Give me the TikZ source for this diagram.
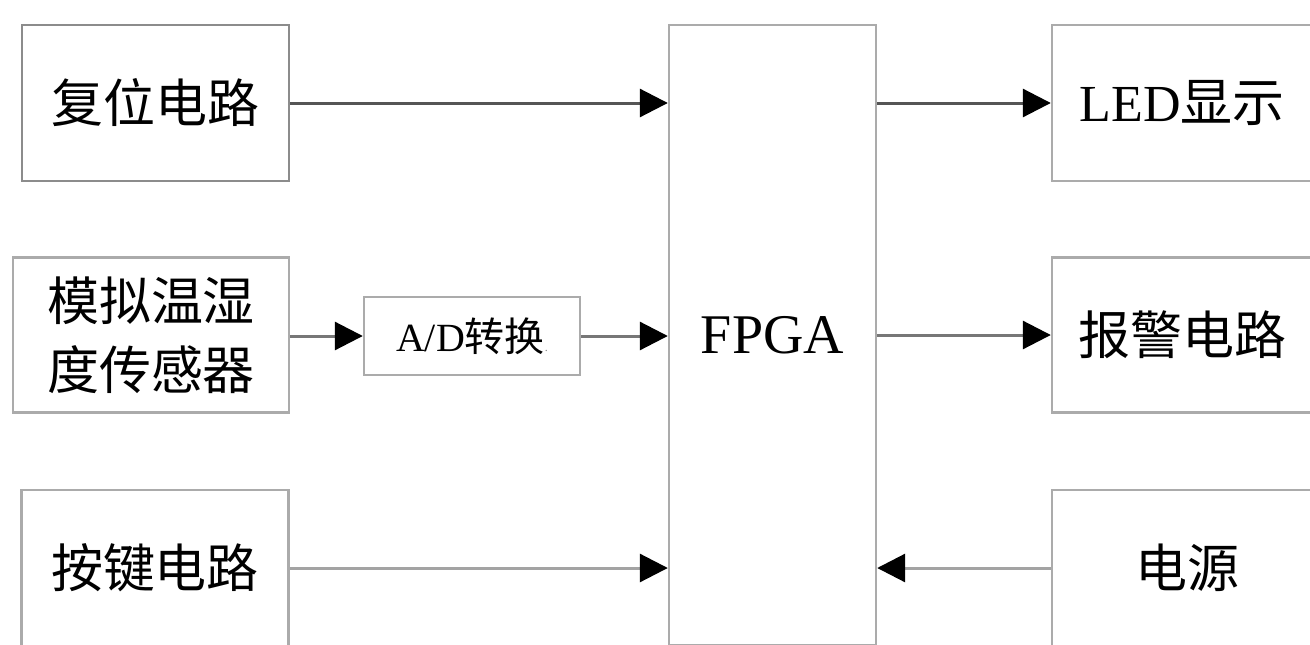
\documentclass[tikz,border=0pt]{standalone}
\usepackage{fontspec}
\setmainfont{Liberation Serif}
\newfontfamily\cjk{Noto Sans CJK SC}
\usetikzlibrary{arrows.meta}
\definecolor{boxline}{HTML}{ABABAB}
\definecolor{boxdark}{HTML}{8C8C8C}
\definecolor{wiredark}{HTML}{555555}
\definecolor{wiremid}{HTML}{777777}
\definecolor{wirelight}{HTML}{A3A3A3}
\begin{document}
\begin{tikzpicture}[x=1pt,y=-1pt,
  blk/.style={draw=boxline, line width=2.4pt, inner sep=0pt, align=center,
    font=\fontsize{52}{69}\selectfont},
  wire/.style={line width=3pt,
    -{Triangle[length=28pt,width=28pt,color=black,fill=black]}}]
\useasboundingbox (0,0) rectangle (1310,645);
\clip (0,0) rectangle (1310,645);

% input blocks
\node[blk, draw=boxdark, minimum width=267pt, minimum height=156pt] (reset) at (155.5,103)
  {\cjk 复位电路};
\node[blk, minimum width=276pt, minimum height=155pt] (sensor) at (151,335)
  {\cjk 模拟温湿\\\cjk 度传感器};
\node[blk, minimum width=216pt, minimum height=78pt, font=\fontsize{40}{48}\selectfont] (adc) at (472,336)
  {A/D{\cjk 转换}{\fontsize{12}{12}\selectfont\color{gray}.}};
\node[blk, minimum width=267pt, minimum height=156pt] (key) at (155,568)
  {\cjk 按键电路};

% controller
\node[blk, minimum width=207pt, minimum height=620pt, font=\fontsize{56}{60}\selectfont] (fpga) at (772.5,335) {FPGA};

% output blocks
\node[blk, minimum width=260pt, minimum height=156pt] (led) at (1182,103)
  {LED{\cjk 显示}};
\node[blk, minimum width=260pt, minimum height=155pt] (alarm) at (1182,335)
  {\cjk 报警电路};
\node[blk, minimum width=260pt, minimum height=156pt] (power) at (1182,568)
  {\cjk\hspace*{10pt}电源};

% signal paths
\draw[wire, wiredark] (reset.east) -- (reset.east -| fpga.west);
\draw[wire, wiremid] (sensor.east |- adc.west) -- (adc.west);
\draw[wire, wiremid] (adc.east) -- (adc.east -| fpga.west);
\draw[wire, wirelight] (key.east) -- (key.east -| fpga.west);
\draw[wire, wiredark] (fpga.east |- led.west) -- (led.west);
\draw[wire, wiremid] (fpga.east |- alarm.west) -- (alarm.west);
\draw[wire, wirelight] (power.west) -- (power.west -| fpga.east);
\end{tikzpicture}
\end{document}
